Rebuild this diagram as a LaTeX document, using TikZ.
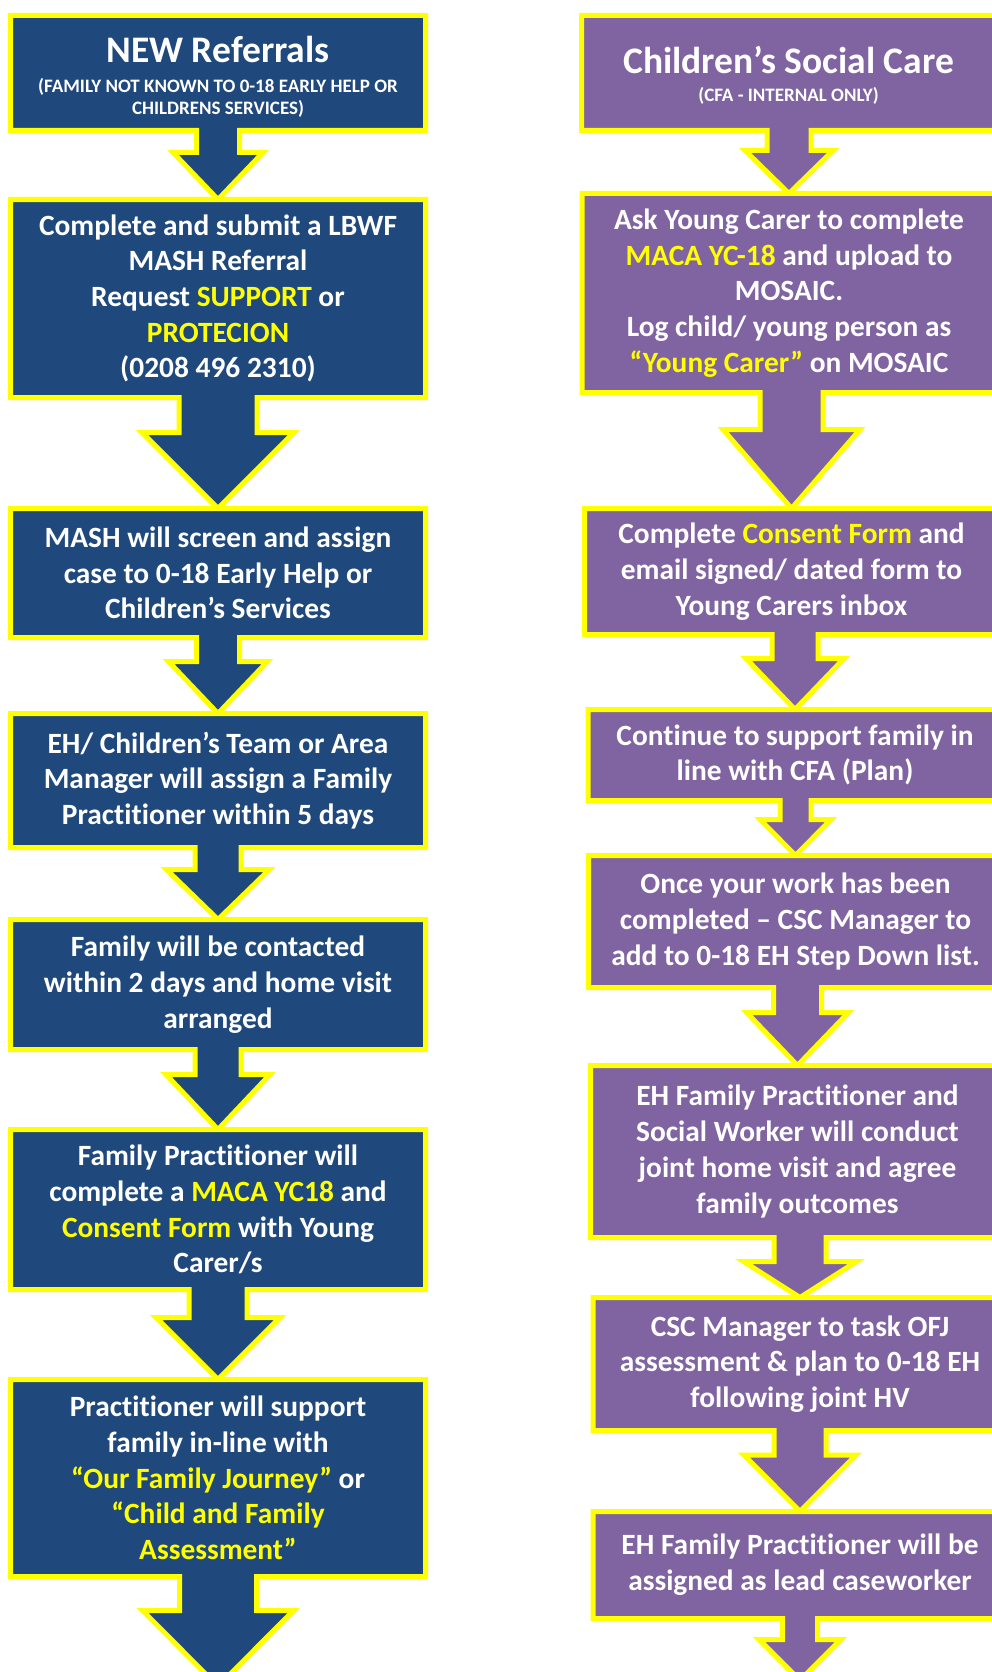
\documentclass[tikz,border=0pt]{standalone}
\usepackage{fontspec}
\setmainfont{Carlito}[Ligatures=NoCommon]
\usepackage{xcolor}
\usepackage{tikz}
\usetikzlibrary{calc, backgrounds}

\definecolor{cblue}{HTML}{1F497D}
\definecolor{cpurple}{HTML}{8064A2}
\definecolor{cyel}{HTML}{FFFF00}

\newcommand{\bodyfont}{\fontsize{29.4}{35.7}\selectfont\bfseries}
\newcommand{\yc}[1]{\textcolor{cyel}{#1}}
% box + down arrow: box, tip, stem half width, head half width, head height, fill
\newcommand{\flowstep}[6]{%
  \filldraw[fill=#6, draw=cyel, line width=5pt, miter limit=10]
    let \p1=(#1.south west), \p2=(#1.south east), \p3=(#2) in
    (\p1) -- (#1.north west) -- (#1.north east) -- (\p2)
    -- (\x3+#3pt,\y2) -- (\x3+#3pt,\y3+#5pt) -- (\x3+#4pt,\y3+#5pt)
    -- (\p3)
    -- (\x3-#4pt,\y3+#5pt) -- (\x3-#3pt,\y3+#5pt) -- (\x3-#3pt,\y1) -- cycle;
}

\tikzset{
  lbox/.style={rectangle, minimum width=415pt, minimum height=#1, inner sep=0pt,
    outer sep=0pt, text=white, align=center, font=\bodyfont},
  rbox/.style={lbox=#1, minimum width=414pt},
}

\begin{document}
\begin{tikzpicture}[x=1pt, y=-1pt]
                \useasboundingbox (0,0) rectangle (992,1672);
                % Referrals column
                \node[lbox=115pt] (l1) at (218,73) {};
                \node[text=white, font=\fontsize{37.5}{40}\selectfont\bfseries, anchor=base] (l1title) at (218,63) {NEW Referrals};
                \node[text=white, font=\fontsize{19}{21.5}\selectfont\bfseries, align=center] (l1sub) at (218,98) {(FAMILY NOT KNOWN TO 0-18 EARLY HELP OR\\CHILDRENS SERVICES)};
                \node[lbox=198pt] (l2) at (218,298.5) {Complete and submit a LBWF\\MASH Referral\\Request \yc{SUPPORT} or\\\yc{PROTECION}\\(0208 496 2310)};
                \node[lbox=129pt] (l3) at (218,573) {MASH will screen and assign\\case to 0-18 Early Help or\\Children’s Services};
                \node[lbox=134pt] (l4) at (218,780.5) {EH/ Children’s Team or Area\\Manager will assign a Family\\Practitioner within 5 days};
                \node[lbox=130pt] (l5) at (218,984.5) {Family will be contacted\\within 2 days and home visit\\arranged};
                \node[lbox=160pt] (l6) at (218,1209.5) {Family Practitioner will\\complete a \yc{MACA YC18} and\\\yc{Consent Form} with Young\\Carer/s};
                \node[lbox=197pt] (l7) at (218,1478) {Practitioner will support\\family in-line with\\\yc{“Our Family Journey”} or\\\yc{“Child and Family}\\\yc{Assessment”}};
                \coordinate (lend) at (218,1686.5);
                % Social care column
                \node[rbox=115pt] (r1) at (788.5,73) {};
                \node[text=white, font=\fontsize{37.5}{40}\selectfont\bfseries, anchor=base] (r1title) at (788.5,74) {Children’s Social Care};
                \node[text=white, font=\fontsize{19}{21.5}\selectfont\bfseries, anchor=base] (r1sub) at (788.5,102) {(CFA - INTERNAL ONLY)};
                \node[rbox=199pt] (r2) at (789,293) {Ask Young Carer to complete\\\yc{MACA YC-18} and upload to\\MOSAIC.\\Log child/ young person as\\\yc{“Young Carer”} on MOSAIC};
                \node[rbox=126pt] (r3) at (791.5,571.5) {Complete \yc{Consent Form} and\\email signed/ dated form to\\Young Carers inbox};
                \node[rbox=91pt] (r4) at (795,755) {Continue to support family in\\line with CFA (Plan)};
                \node[rbox=132pt] (r5) at (795.5,921.5) {Once your work has been\\completed – CSC Manager to\\add to 0-18 EH Step Down list.};
                \node[rbox=172pt] (r6) at (797.5,1151.5) {EH Family Practitioner and\\Social Worker will conduct\\joint home visit and agree\\family outcomes};
                \node[rbox=133pt] (r7) at (800,1364) {CSC Manager to task OFJ\\assessment \& plan to 0-18 EH\\following joint HV};
                \node[rbox=107pt] (r8) at (800,1565) {EH Family Practitioner will be\\assigned as lead caseworker};
                \coordinate (rend) at (800,1680.5);
                % Boxes and arrows
                \begin{scope}[on background layer]
                \fill[white] (0,0) rectangle (992,1672);
                \flowstep{l1}{l2.north}{21.5}{45}{47}{cblue}
                \flowstep{l2}{l3.north}{39}{76}{76}{cblue}
                \flowstep{l3}{l4.north}{21.5}{49.5}{52}{cblue}
                \flowstep{l4}{l5.north}{23}{51.5}{50}{cblue}
                \flowstep{l5}{l6.north}{23}{52}{55}{cblue}
                \flowstep{l6}{l7.north}{29}{62}{62}{cblue}
                \flowstep{l7}{lend}{38.5}{75.5}{76}{cblue}
                \flowstep{r1}{r2.north}{22}{44}{43}{cpurple}
                \flowstep{r2}{r3.north}{31.5}{68.5}{79}{cpurple}
                \flowstep{r3}{r4.north}{23}{49}{51}{cpurple}
                \flowstep{r4}{r5.north}{15.5}{35.5}{36}{cpurple}
                \flowstep{r5}{r6.north}{24}{51}{53}{cpurple}
                \flowstep{r6}{r7.north}{26}{56.5}{36}{cpurple}
                \flowstep{r7}{r8.north}{26}{56}{56.5}{cpurple}
                \flowstep{r8}{rend}{17.5}{41}{41}{cpurple}
                \end{scope}
            \end{tikzpicture}
\end{document}
